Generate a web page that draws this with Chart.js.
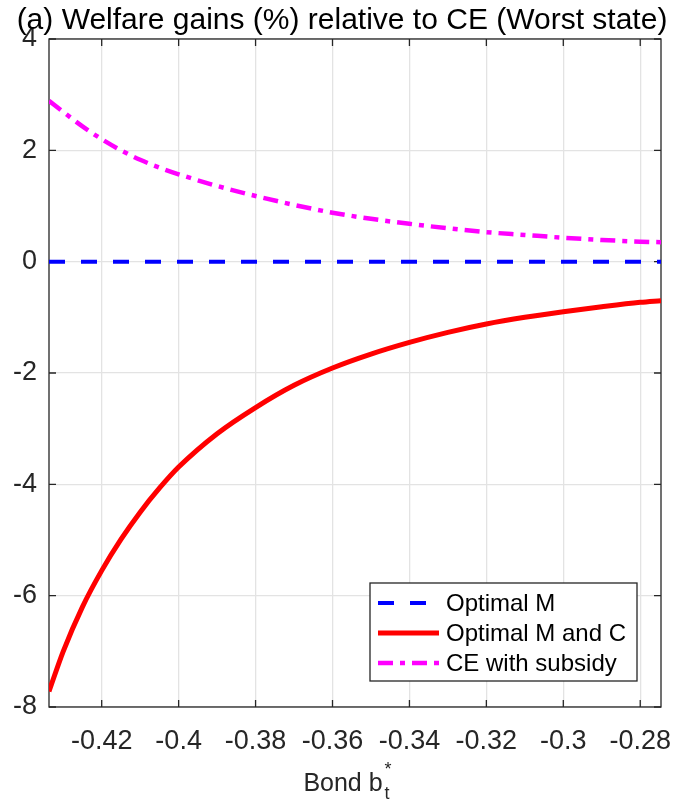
<!DOCTYPE html>
<html lang="en">
<head>
  <meta charset="UTF-8">
  <title>Welfare gains relative to CE</title>
  <script src="https://cdn.jsdelivr.net/npm/chart.js"></script>
  <style>
    html, body { margin: 0; padding: 0; background: #fff; }
  </style>
</head>
<body>
  <canvas id="welfare-chart" width="677" height="801"></canvas>

  <script>
    // values
    const bond = [-0.4337, -0.43, -0.425, -0.42, -0.415, -0.41, -0.405, -0.40, -0.39, -0.38, -0.37,
                  -0.36, -0.35, -0.34, -0.33, -0.32, -0.31, -0.30, -0.29, -0.28, -0.2746];
    const optimalM = [0, 0, 0, 0, 0, 0, 0, 0, 0, 0, 0, 0, 0, 0, 0, 0, 0, 0, 0, 0, 0];
    const optimalMC = [-7.72, -7.0, -6.2, -5.55, -4.99, -4.50, -4.07, -3.69, -3.09, -2.62, -2.22,
                       -1.91, -1.66, -1.45, -1.27, -1.12, -1.00, -0.90, -0.81, -0.73, -0.70];
    const ceSubsidy = [2.89, 2.69, 2.43, 2.20, 2.00, 1.83, 1.69, 1.57, 1.36, 1.18, 1.02,
                       0.88, 0.77, 0.68, 0.60, 0.53, 0.48, 0.43, 0.39, 0.36, 0.35];
    const xTicks = [-0.42, -0.40, -0.38, -0.36, -0.34, -0.32, -0.30, -0.28];
    const yTicks = [-8, -6, -4, -2, 0, 2, 4];
    const seriesNames = ['Optimal M', 'Optimal M and C', 'CE with subsidy'];
    const titleText = '(a) Welfare gains (%) relative to CE (Worst state)';

    const axisColor = '#262626';
    const font = "'Liberation Sans', Arial, Helvetica, sans-serif";

    const toPoints = ys => bond.map((x, i) => ({ x: x, y: ys[i] }));

    // box round the axes with inward tick marks, like matlab
    const axesBox = {
      id: 'axesBox',
      beforeDatasetsDraw(chart) {
        const { ctx, chartArea: a, scales } = chart;
        ctx.save();
        ctx.strokeStyle = axisColor;
        ctx.lineWidth = 1.3;
        ctx.strokeRect(a.left, a.top, a.right - a.left, a.bottom - a.top);
        ctx.beginPath();
        xTicks.forEach(v => {
          const px = scales.x.getPixelForValue(v);
          ctx.moveTo(px, a.bottom); ctx.lineTo(px, a.bottom - 7);
          ctx.moveTo(px, a.top); ctx.lineTo(px, a.top + 7);
        });
        yTicks.forEach(v => {
          const py = scales.y.getPixelForValue(v);
          ctx.moveTo(a.left, py); ctx.lineTo(a.left + 7, py);
          ctx.moveTo(a.right, py); ctx.lineTo(a.right - 7, py);
        });
        ctx.stroke();
        ctx.restore();
      },
      afterDraw(chart) {
        const { ctx, chartArea: a } = chart;
        ctx.save();
        ctx.textBaseline = 'alphabetic';

        // title, a bit right of the canvas centre as in the figure
        ctx.fillStyle = '#000';
        ctx.textAlign = 'center';
        ctx.font = '30px ' + font;
        ctx.fillText(titleText, (a.left + a.right) / 2 - 13, 29);

        // x label: Bond b_t^*
        ctx.fillStyle = axisColor;
        ctx.textAlign = 'left';
        ctx.font = '25px ' + font;
        const main = 'Bond b';
        const wMain = ctx.measureText(main).width;
        const cx = (a.left + a.right) / 2;
        const x0 = cx - (wMain + 8) / 2 - 8;
        const base = 791;
        ctx.fillText(main, x0, base);
        ctx.font = '18px ' + font;
        ctx.fillText('t', x0 + wMain + 2, base + 8);
        ctx.fillText('*', x0 + wMain + 2, base - 16);
        ctx.restore();
      }
    };

    // legend box in the lower right corner
    const legendBox = {
      id: 'legendBox',
      afterDatasetsDraw(chart) {
        const { ctx, chartArea: a } = chart;
        const w = 267, h = 98;
        const x0 = a.right - 24 - w;
        const y0 = a.bottom - 26 - h;
        ctx.save();
        ctx.fillStyle = '#fff';
        ctx.fillRect(x0, y0, w, h);
        ctx.strokeStyle = axisColor;
        ctx.lineWidth = 1.3;
        ctx.strokeRect(x0, y0, w, h);
        chart.data.datasets.forEach((ds, i) => {
          const y = y0 + 20 + i * 30;
          ctx.beginPath();
          ctx.setLineDash(ds.borderDash || []);
          ctx.strokeStyle = ds.borderColor;
          ctx.lineWidth = ds.borderWidth;
          ctx.moveTo(x0 + 8, y);
          ctx.lineTo(x0 + 69, y);
          ctx.stroke();
          ctx.setLineDash([]);
          ctx.fillStyle = '#000';
          ctx.font = '24px ' + font;
          ctx.textBaseline = 'middle';
          ctx.textAlign = 'left';
          ctx.fillText(ds.label, x0 + 76, y + 1);
        });
        ctx.restore();
      }
    };

    const chart = new Chart(document.getElementById('welfare-chart').getContext('2d'), {
      type: 'line',
      data: {
        datasets: [
          {
            label: seriesNames[0],
            data: toPoints(optimalM),
            borderColor: '#0000ff',
            borderWidth: 4,
            borderDash: [16, 16],
            pointRadius: 0
          },
          {
            label: seriesNames[1],
            data: toPoints(optimalMC),
            borderColor: '#ff0000',
            borderWidth: 5,
            pointRadius: 0,
            cubicInterpolationMode: 'monotone'
          },
          {
            label: seriesNames[2],
            data: toPoints(ceSubsidy),
            borderColor: '#ff00ff',
            borderWidth: 4.5,
            borderDash: [15, 7, 5, 7],
            pointRadius: 0,
            cubicInterpolationMode: 'monotone'
          }
        ]
      },
      options: {
        responsive: false,
        animation: false,
        events: [],
        layout: { padding: { left: 0, right: 16, top: 39, bottom: 0 } },
        plugins: {
          legend: { display: false },
          tooltip: { enabled: false },
          title: { display: false }
        },
        scales: {
          x: {
            type: 'linear',
            min: -0.4337,
            max: -0.2746,
            border: { display: false },
            grid: { color: '#e3e3e3', lineWidth: 1.3, drawTicks: false },
            afterBuildTicks: s => { s.ticks = xTicks.map(v => ({ value: v })); },
            afterFit: s => { s.height = 94; s.paddingLeft = 0; s.paddingRight = 0; },
            ticks: {
              autoSkip: false,
              maxRotation: 0,
              padding: 18,
              color: axisColor,
              font: { family: font, size: 27 },
              callback: v => String(Math.round(v * 100) / 100)
            }
          },
          y: {
            min: -8,
            max: 4,
            border: { display: false },
            grid: { color: '#e3e3e3', lineWidth: 1.3, drawTicks: false },
            afterBuildTicks: s => { s.ticks = yTicks.map(v => ({ value: v })); },
            afterFit: s => { s.width = 49; s.paddingTop = 0; s.paddingBottom = 0; },
            ticks: {
              autoSkip: false,
              padding: 12,
              color: axisColor,
              font: { family: font, size: 27 },
              callback: v => String(v)
            }
          }
        }
      },
      plugins: [axesBox, legendBox]
    });
  </script>
</body>
</html>
